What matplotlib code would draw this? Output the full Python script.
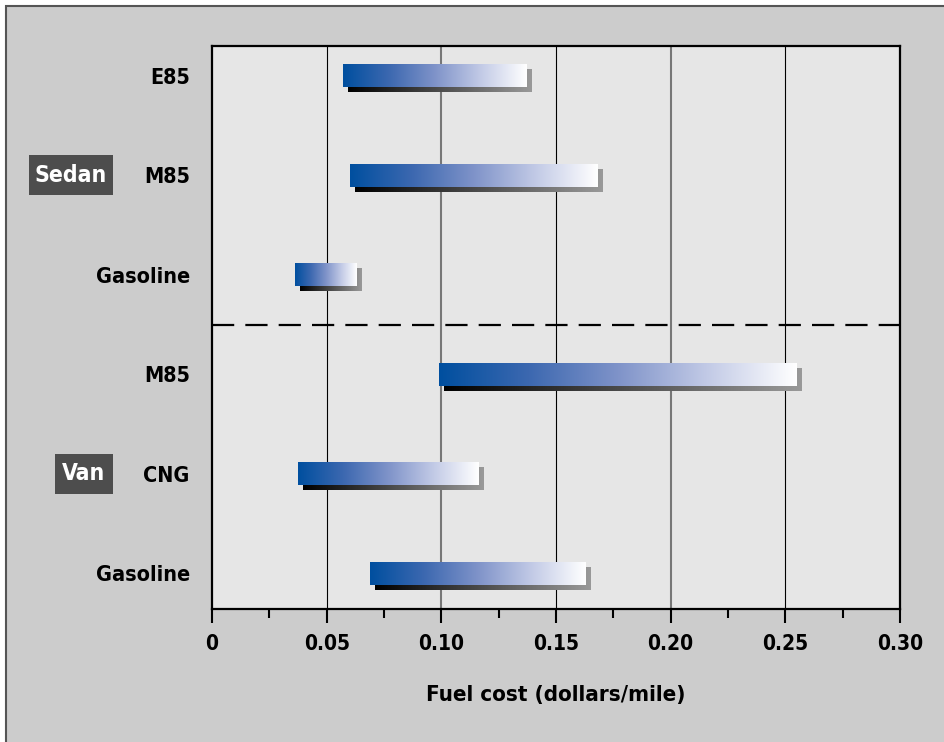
import matplotlib
matplotlib.use('Agg')
import matplotlib.pyplot as plt
import matplotlib.transforms as mtransforms
from matplotlib.colors import LinearSegmentedColormap
from matplotlib.patches import Rectangle
import numpy as np

# fuel cost ranges, dollars per mile (top to bottom)
fuels = ['E85', 'M85', 'Gasoline', 'M85', 'CNG', 'Gasoline']
low = [0.057, 0.060, 0.036, 0.099, 0.0375, 0.069]
high = [0.137, 0.168, 0.063, 0.255, 0.116, 0.163]
groups = ['Sedan', 'Van']
group_rows = [1, 4]          # row index of the fuel that carries the group tag
xticks = [0, 0.05, 0.10, 0.15, 0.20, 0.25, 0.30]
xticklabels = ['0', '0.05', '0.10', '0.15', '0.20', '0.25', '0.30']

plt.rcParams['font.family'] = ['DejaVu Sans']
plt.rcParams['font.stretch'] = 'condensed'
plt.rcParams['font.weight'] = 'bold'
plt.rcParams['axes.labelweight'] = 'bold'

W, H = 945, 742
fig = plt.figure(figsize=(W / 100, H / 100), dpi=100, facecolor='white')
# outer gray panel with its frame (cut at right and bottom)
fig.patches.append(Rectangle((6 / W, -0.05), 1.1, 1 - 6 / H + 0.05,
                             transform=fig.transFigure, facecolor='#cccccc',
                             edgecolor='#555555', linewidth=1.5, zorder=-10))

ax = fig.add_axes([212 / W, 1 - 609 / H, (900 - 212) / W, (609 - 46) / H])
ax.set_facecolor('#e6e6e6')

n = len(fuels)
ypos = np.arange(n)[::-1]
bar_h = 0.23
sh_dx, sh_dy = 0.0022, 0.05   # shadow offset (about 5 px)

blue = LinearSegmentedColormap.from_list('b', ['#004f9f', '#3c68b0', '#7f93c9', '#c2cae6', '#ffffff'])
dark = LinearSegmentedColormap.from_list('k', ['#000000', '#999999'])
grad = np.linspace(0, 1, 256).reshape(1, -1)

for y, lo, hi in zip(ypos, low, high):
    ax.imshow(grad, cmap=dark, aspect='auto', interpolation='bilinear',
              extent=[lo + sh_dx, hi + sh_dx, y - bar_h / 2 - sh_dy, y + bar_h / 2 - sh_dy],
              zorder=3)
    ax.imshow(grad, cmap=blue, aspect='auto', interpolation='bilinear',
              extent=[lo, hi, y - bar_h / 2, y + bar_h / 2], zorder=4)

# vertical grid lines, alternating black / gray
for i, xv in enumerate(xticks[1:-1]):
    if i % 2 == 0:
        ax.axvline(xv, color='black', lw=0.8, zorder=1)
    else:
        ax.axvline(xv, color='#777777', lw=1.5, zorder=1)

# divider between sedan and van
ax.axhline(2.5, color='black', lw=1.6, dashes=(10, 5), zorder=2)

ax.set_xlim(0, 0.30)
ax.set_ylim(-0.36, 5.3)

ax.set_xticks(xticks)
ax.set_xticklabels(xticklabels)
ax.set_xticks(np.arange(0.025, 0.30, 0.05), minor=True)
ax.tick_params(axis='x', which='major', direction='out', length=10, width=1.5,
               pad=8, labelsize=15)
ax.tick_params(axis='x', which='minor', direction='out', length=6.5, width=1.5)
ax.set_yticks(ypos)
ax.set_yticklabels(fuels)
ax.tick_params(axis='y', length=0, pad=16, labelsize=15.5)

for s in ax.spines.values():
    s.set_linewidth(1.6)
    s.set_color('black')

ax.set_xlabel('Fuel cost (dollars/mile)', fontsize=16, labelpad=22)

# group tags on the left
trans = mtransforms.blended_transform_factory(fig.transFigure, ax.transData)
box_l = [29 / W, 55 / W]
box_r = 113 / W
for g, r, bl in zip(groups, group_rows, box_l):
    yc = ypos[r]
    ax.add_patch(Rectangle((bl, yc - 0.2), box_r - bl, 0.4, transform=trans,
                           facecolor='#4d4d4d', edgecolor='none', clip_on=False))
    ax.text((bl + box_r) / 2, yc, g, transform=trans, color='white', fontsize=16.5,
            ha='center', va='center', clip_on=False)

fig.savefig('out.png', dpi=100, facecolor=fig.get_facecolor())
